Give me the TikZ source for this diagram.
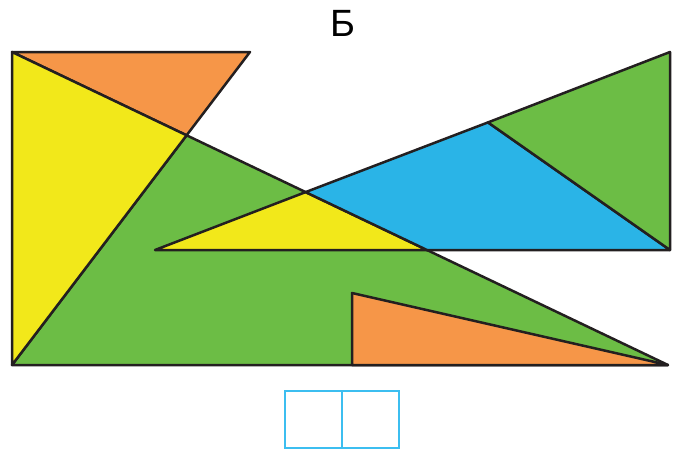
\documentclass[tikz,border=0pt]{standalone}
\usepackage{fontspec}
\setmainfont{Liberation Sans}
\usepackage{tikz}
\usetikzlibrary{calc}
\definecolor{pieceorange}{RGB}{246, 150, 72}
\definecolor{pieceyellow}{RGB}{242, 232, 26}
\definecolor{piecegreen}{RGB}{108, 189, 69}
\definecolor{pieceblue}{RGB}{42, 180, 231}
\definecolor{outline}{RGB}{35, 31, 32}
\definecolor{boxcyan}{RGB}{60, 190, 240}

\tikzset{
  piece/.style={draw=outline, line width=2.5pt, line join=round},
  answerbox/.style={draw=boxcyan, line width=2pt, minimum width=57pt,
    minimum height=57pt, inner sep=0pt, outer sep=0pt}
}

\begin{document}
\begin{tikzpicture}[x=1pt, y=-1pt]
  \useasboundingbox (0,0) rectangle (673,451);

  % corners of the big figure
  \coordinate (tl) at (12,52);
  \coordinate (bl) at (12,365);
  \coordinate (br) at (668,365);
  \coordinate (tt) at (250,52);
  \coordinate (cross) at (186.6,135.3);
  % right figure
  \coordinate (tip) at (155,250);
  \coordinate (rt) at (670,52);
  \coordinate (rb) at (670,250);
  \coordinate (mid) at (305.6,192.1);
  \coordinate (upper) at (488,122.4);
  \coordinate (low) at (427,250);
  % small triangle at the bottom
  \coordinate (st) at (352,293);
  \coordinate (sb) at (352,365);

  \node (title) at (343,23) {\fontsize{38}{40}\selectfont Б};

  % left figure
  \filldraw[piece, fill=piecegreen] (bl) -- (cross) -- (br) -- cycle;
  \filldraw[piece, fill=pieceorange] (tl) -- (tt) -- (cross) -- cycle;
  \filldraw[piece, fill=pieceyellow] (tl) -- (cross) -- (bl) -- cycle;
  \filldraw[piece, fill=pieceorange] (st) -- (br) -- (sb) -- cycle;

  % right figure
  \filldraw[piece, fill=pieceyellow] (tip) -- (mid) -- (low) -- cycle;
  \filldraw[piece, fill=pieceblue] (mid) -- (upper) -- (rb) -- (low) -- cycle;
  \filldraw[piece, fill=piecegreen] (upper) -- (rt) -- (rb) -- cycle;

  % answer boxes
  \node[answerbox, anchor=north east] (box1) at (342,391) {};
  \node[answerbox, anchor=north west] (box2) at (342,391) {};
\end{tikzpicture}
\end{document}
